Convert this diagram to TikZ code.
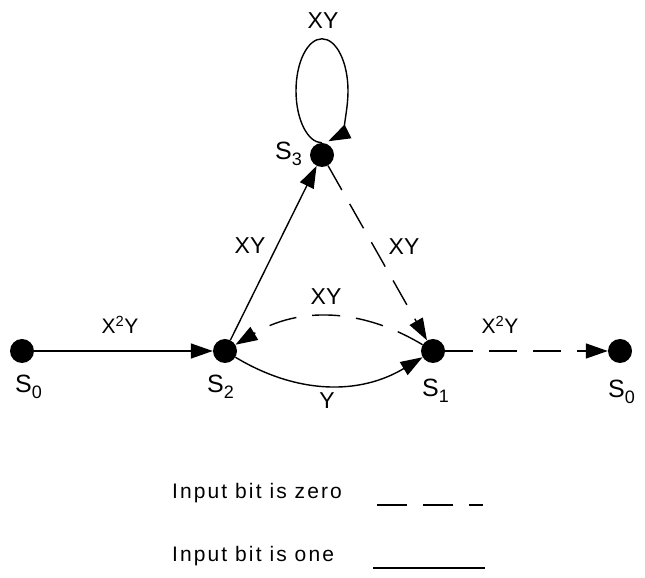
\documentclass[tikz,border=0pt]{standalone}
\usepackage{fontspec}
\setmainfont{Liberation Sans}
\usepackage{tikz}
\usetikzlibrary{arrows.meta,positioning}
\newcommand{\stsub}[1]{\raisebox{-6pt}{\fontsize{18}{20}\selectfont #1}}

\begin{document}
\begin{tikzpicture}[x=1pt, y=1pt,
    state/.style={circle, fill=black, minimum size=24pt, inner sep=0pt},
    oneline/.style={line width=1.4pt, -{Triangle[length=22pt, width=15pt]}},
    zeroline/.style={oneline, dash pattern=on 28pt off 16pt},
    statelbl/.style={font=\fontsize{25}{28}\selectfont, inner sep=0pt, anchor=base west},
    edgelbl/.style={font=\fontsize{23}{26}\selectfont, inner sep=0pt},
    powlbl/.style={font=\fontsize{21}{24}\selectfont, inner sep=0pt},
    keylbl/.style={font=\fontsize{21}{24}\selectfont\addfontfeatures{LetterSpace=10}, inner sep=0pt, anchor=base west}]
  \useasboundingbox (0,0) rectangle (645,578);

  % 1. Trang thai
  \node[state] (s0a) at (22,227) {};
  \node[state] (s2) at (225,227) {};
  \node[state] (s1) at (433,227) {};
  \node[state] (s0b) at (620,227) {};
  \node[state] (s3) at (322,423) {};

  % 2. Ten trang thai
  \node[statelbl] (ls0a) at (15,185) {S\stsub{0}};
  \node[statelbl] (ls2) at (207,185) {S\stsub{2}};
  \node[statelbl] (ls1) at (422,181) {S\stsub{1}};
  \node[statelbl] (ls0b) at (608,180) {S\stsub{0}};
  \node[statelbl] (ls3) at (275,418) {S\stsub{3}};

  % 3. Chuyen trang thai (bit 1: net lien, bit 0: net dut)
  \draw[oneline] (s0a) -- (s2);
  \draw[oneline] (s2) -- (s3);
  \draw[zeroline] (s3) -- (s1);
  \draw[zeroline] (s1) to[bend right=31] (s2);
  \draw[oneline] (s2) to[bend right=31] (s1);
  \draw[zeroline] (s1) -- (s0b);
  \draw[oneline] (s3.north) arc[start angle=270, end angle=-76, x radius=26, y radius=52];

  % 4. Nhan tren canh
  \node[powlbl] (lx2a) at (120,253) {X\textsuperscript{2}Y};
  \node[edgelbl] (lxy3) at (323,557) {XY};
  \node[edgelbl] (lxy23) at (250,332) {XY};
  \node[edgelbl] (lxy31) at (404,331) {XY};
  \node[edgelbl] (lxy12) at (326,281) {XY};
  \node[edgelbl] (ly21) at (327,177) {Y};
  \node[powlbl] (lx2b) at (500,253) {X\textsuperscript{2}Y};

  % 5. Chu giai
  \node[keylbl] (kzero) at (172,79) {Input bit is zero};
  \node[keylbl] (kone) at (172,16) {Input bit is one};
  \coordinate (zs) at (377,73);
  \coordinate (ze) at (483,73);
  \coordinate (os) at (373,10);
  \coordinate (oe) at (485,10);
  \draw[line width=1.4pt, dash pattern=on 30pt off 16pt] (zs) -- (ze);
  \draw[line width=1.4pt] (os) -- (oe);
\end{tikzpicture}
\end{document}
